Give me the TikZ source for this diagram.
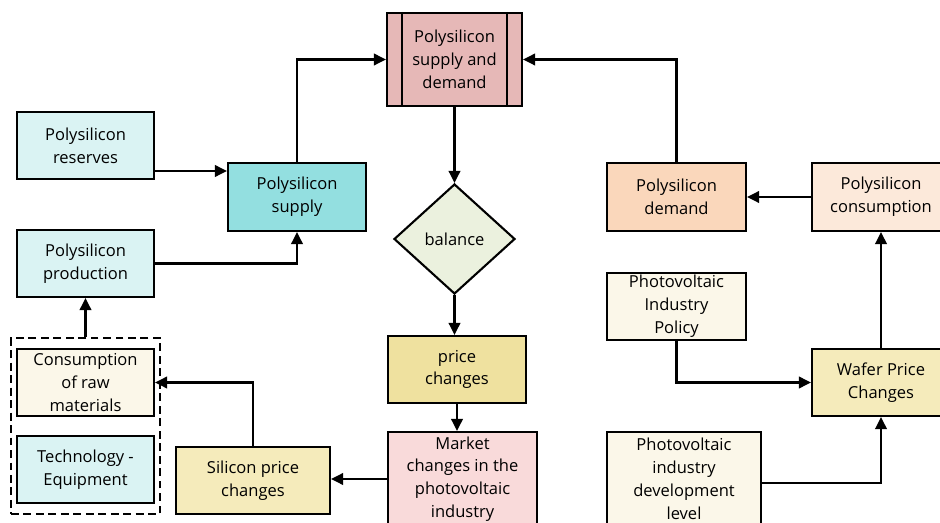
\documentclass[tikz,border=0pt]{standalone}
\usepackage{fontspec}
\setmainfont{Open Sans}
\usepackage{tikz}
\usetikzlibrary{arrows.meta, positioning, fit, calc, shapes.geometric}
\usepackage{xcolor}
\definecolor{cyanlt}{HTML}{DAF3F3}
\definecolor{cyandk}{HTML}{93DFE0}
\definecolor{sdbox}{HTML}{E6B8B7}
\definecolor{balbox}{HTML}{EBF1DE}
\definecolor{pricebox}{HTML}{EFE19F}
\definecolor{ylw}{HTML}{F5EBBB}
\definecolor{mktbox}{HTML}{F9DADA}
\definecolor{cream}{HTML}{FBF7E9}
\definecolor{dmdbox}{HTML}{FAD7BB}
\definecolor{consbox}{HTML}{FCE9DA}
\tikzset{
  n/.style={draw=black, line width=1.2pt, align=center, inner sep=1pt,
    font=\fontsize{9.4}{13}\selectfont, minimum width=2.74cm, minimum height=1.34cm},
  nc/.style={n, fill=cyanlt},
  nt/.style={n, fill=cyandk},
  ny/.style={n, fill=ylw},
  nw/.style={n, fill=cream},
  dia/.style={n, diamond, fill=balbox, minimum width=2.42cm, minimum height=2.2cm, inner sep=0pt},
  a/.style={-{Triangle[length=0.24cm, width=0.23cm]}, draw=black, line width=1.2pt},
  grp/.style={draw=black, line width=1.2pt, dash pattern=on 4.5pt off 2.6pt, inner xsep=0.1cm, inner ysep=0.2cm},
}
\begin{document}
\begin{tikzpicture}[x=1cm, y=1cm]
\useasboundingbox (0,0) rectangle (18.8,-10.46);
\clip (0,0) rectangle (18.8,-10.46);
% left column
\node[nc] (res)  at (1.71, -2.91) {Polysilicon\\reserves};
\node[nc] (prod) at (1.71, -5.27) {Polysilicon\\production};
\node[nw] (raw)  at (1.71, -7.65) {Consumption\\of raw\\materials};
\node[nc] (tech) at (1.71, -9.39) {Technology -\\Equipment};
\node[grp, fit=(raw)(tech)] (grp) {};
\node[nt, minimum width=2.76cm, minimum height=1.36cm] (sup) at (5.94, -3.94) {Polysilicon\\supply};
\node[ny, minimum width=3.08cm] (sip) at (5.06, -9.61) {Silicon price\\changes};
% middle column
\node[n, fill=sdbox, minimum width=2.70cm, minimum height=1.86cm] (sd) at (9.09, -1.19) {Polysilicon\\supply and\\demand};
\draw[line width=1.2pt] ([xshift=0.32cm]sd.north west) -- ([xshift=0.32cm]sd.south west);
\draw[line width=1.2pt] ([xshift=-0.32cm]sd.north east) -- ([xshift=-0.32cm]sd.south east);
\node[dia] (bal) at (9.09, -4.78) {balance};
\node[n, fill=pricebox, minimum width=2.76cm] (pc) at (9.14, -7.39) {price\\changes};
\node[n, fill=mktbox, minimum width=2.98cm, minimum height=1.88cm] (mkt) at (9.25, -9.58) {Market\\changes in the\\photovoltaic\\industry};
% right column
\node[n, fill=dmdbox, minimum width=2.78cm, minimum height=1.36cm] (dmd) at (13.53, -3.94) {Polysilicon\\demand};
\node[n, fill=consbox, minimum width=2.76cm, minimum height=1.36cm] (cons) at (17.62, -3.94) {Polysilicon\\consumption};
\node[nw, minimum width=2.78cm] (pol) at (13.53, -6.13) {Photovoltaic\\Industry\\Policy};
\node[ny, minimum width=2.76cm] (wfr) at (17.62, -7.65) {Wafer Price\\Changes};
\node[nw, minimum width=3.08cm, minimum height=1.88cm] (pvd) at (13.68, -9.58) {Photovoltaic\\industry\\development\\level};

\draw[a] ([yshift=-0.51cm]res.east) coordinate (r1) -- (r1 -| sup.west);
\draw[a] (prod.east) -| (sup.south);
\draw[a] (sup.north) |- (sd.west);
\draw[a] (dmd.north) |- (sd.east);
\draw[a] (sd.south) -- (bal.north);
\draw[a] (bal.south) -- (bal.south |- pc.north);
\draw[a] (pc.south) -- (pc.south |- mkt.north);
\draw[a] (mkt.west) -- (mkt.west -| sip.east);
\draw[a] (sip.north) |- (raw.east);
\draw[a] (grp.north) -- (prod.south);
\draw[a] (cons.west) -- (dmd.east);
\draw[a] (wfr.north) -- (cons.south);
\draw[a] (pol.south) |- (wfr.west);
\draw[a] ([yshift=-0.08cm]pvd.east) -| (wfr.south);
\end{tikzpicture}
\end{document}
